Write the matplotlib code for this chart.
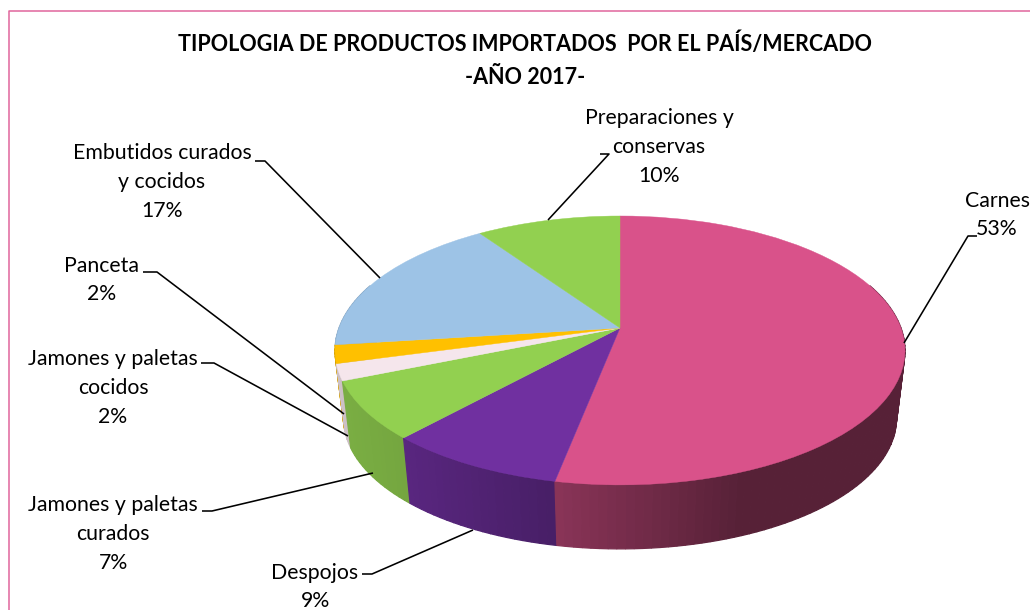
import numpy as np
import matplotlib
matplotlib.use("Agg")
import matplotlib.pyplot as plt
from matplotlib.transforms import Transform
from matplotlib.colors import to_rgb

categories = ["Carnes", "Despojos", "Jamones y paletas\ncurados", "Jamones y paletas\ncocidos",
              "Panceta", "Embutidos curados\ny cocidos", "Preparaciones y\nconservas"]
values = [53.1, 8.7, 7.0, 2.0, 2.2, 17.4, 9.6]
colors = ["#D9528A", "#7030A0", "#92D050", "#F5E6EC", "#FFC000", "#9DC3E6", "#92D050"]
title = "TIPOLOGIA DE PRODUCTOS IMPORTADOS  POR EL PAÍS/MERCADO\n-AÑO 2017-"

# layout (pixels)
CX, CY, RX, RY, K = 620.0, 328.0, 281.0, 130.7, 0.167
BOTTOM_SCALE, BOTTOM_SHIFT = 0.97, 68.7
label_pos = [(997, 215), (315, 587), (113, 534), (113, 388), (102, 280), (162, 182), (659, 147)]
leaders = [
    [(977, 236), (968, 236), (904, 343)],
    [(362, 574), (372, 574), (473, 530)],
    [(202, 511), (212, 511), (373, 473)],
    [(201, 363), (214, 363), (348, 436)],
    [(143, 272), (157, 272), (344, 414)],
    [(255, 161), (265, 161), (380, 278)],
    [(600, 154), (609, 154), (548, 220)],
]
plt.rcParams["font.family"] = ["Lato", "DejaVu Sans"]


def project(xy, scale=1.0, shift=0.0):
    xy = np.asarray(xy, float)
    w = 1 + K * xy[..., 1]
    return np.stack([CX + scale * RX * xy[..., 0] / w,
                     CY - scale * RY * xy[..., 1] / w + shift], axis=-1)


class Perspective(Transform):
    input_dims = output_dims = 2
    is_affine = False
    has_inverse = False

    def transform_non_affine(self, values):
        return project(values)


def shade(x):
    return np.interp(x, [340, 403, 553, 740, 910], [0.84, 0.80, 0.64, 0.40, 0.40])


fig = plt.figure(figsize=(10.3, 6.1), dpi=100, facecolor="white")
ax = fig.add_axes([0, 0, 1, 1])

wedges, _ = ax.pie(values, colors=colors, startangle=90, counterclock=False, radius=1.0,
                   wedgeprops=dict(linewidth=0.3))
proj = Perspective()
for w, c in zip(wedges, colors):
    w.set_transform(proj + ax.transData)
    w.set_edgecolor(c)
    w.set_zorder(5)

ax.set_aspect("auto")
ax.set_xlim(0, 1030)
ax.set_ylim(610, 0)
ax.set_axis_off()

# side wall, clockwise angles measured from the top of the pie
edges = np.concatenate([[0], np.cumsum(values)]) / np.sum(values) * 2 * np.pi
strips = []
for i, c in enumerate(colors):
    a0, a1 = max(edges[i], np.radians(70)), min(edges[i + 1], np.radians(290))
    if a1 <= a0:
        continue
    n = max(2, int(np.degrees(a1 - a0) / 1.5))
    aa = np.linspace(a0, a1, n + 1)
    for s, e in zip(aa[:-1], aa[1:]):
        strips.append((s, e, c))
strips.sort(key=lambda t: -np.cos((t[0] + t[1]) / 2))
for s, e, c in strips:
    ang = np.array([s, e])
    pts = np.stack([np.sin(ang), np.cos(ang)], axis=-1)
    top, bot = project(pts), project(pts, BOTTOM_SCALE, BOTTOM_SHIFT)
    poly = np.vstack([top, bot[::-1]])
    col = np.array(to_rgb(c)) * shade(poly[:, 0].mean())
    ax.fill(poly[:, 0], poly[:, 1], color=col, lw=0.9, zorder=2)

for txt, v, p, seg in zip(categories, values, label_pos, leaders):
    ax.text(p[0], p[1], f"{txt}\n{v:.0f}%", ha="center", va="center", multialignment="center",
            fontsize=15.3, linespacing=1.56, color="black", zorder=6)
    seg = np.array(seg, float)
    ax.plot(seg[:, 0], seg[:, 1], color="black", lw=1.15, zorder=6, solid_capstyle="butt")

ax.text(525, 60, title, ha="center", va="center", multialignment="center",
        fontsize=15.5, fontweight="bold", linespacing=1.72, color="black", zorder=6)

ax.plot([9, 9, 1030], [610, 11, 11], color="#E0669C", lw=1.1, zorder=7, clip_on=False)

fig.savefig("out.png", dpi=100)
